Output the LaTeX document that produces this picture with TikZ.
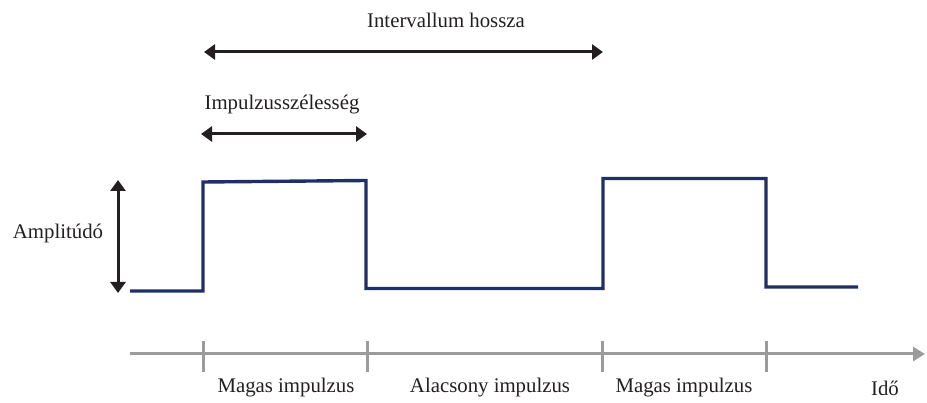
\documentclass[tikz,border=0pt]{standalone}
\usepackage{fontspec}
\setmainfont{Liberation Serif}
\usetikzlibrary{arrows.meta}
\definecolor{sig}{HTML}{1F3066}
\definecolor{dark}{HTML}{231F20}
\definecolor{axisgray}{HTML}{9B9B9B}
\tikzset{
  lbl/.style={font=\fontsize{20.8}{25}\selectfont, text=dark, inner sep=0pt},
  dimarrow/.style={draw=dark, line width=3pt, {Triangle[width=15pt,length=11pt]}-{Triangle[width=15pt,length=11pt]}},
  signal/.style={draw=sig, line width=3.4pt, line join=miter},
  axisline/.style={draw=axisgray, line width=3pt},
  tick/.style={draw=axisgray, line width=3pt}
}
\begin{document}
\begin{tikzpicture}[x=1pt,y=-1pt]
\useasboundingbox (0,0) rectangle (927,403);
% signal coordinates
\coordinate (s0) at (130,291);
\coordinate (s1) at (203,291);
\coordinate (s2) at (203,182);
\coordinate (s3) at (366,180.5);
\coordinate (s4) at (366,288.5);
\coordinate (s5) at (603,288.5);
\coordinate (s6) at (603,178.5);
\coordinate (s7) at (766,178.5);
\coordinate (s8) at (766,287);
\coordinate (s9) at (858,287);
\draw[signal] (s0) -- (s1) -- (s2) -- (s3) -- (s4) -- (s5) -- (s6) -- (s7) -- (s8) -- (s9);
% dimension arrows
\coordinate (ia) at (204,52);
\coordinate (ib) at (603,52);
\draw[dimarrow] (ia) -- (ib);
\node[lbl] (ilbl) at (446,20) {Intervallum hossza};
\coordinate (wa) at (201,134);
\coordinate (wb) at (367,134);
\draw[dimarrow] (wa) -- (wb);
\node[lbl] (wlbl) at (282,105) {Impulzusszélesség};
\coordinate (aa) at (118,180);
\coordinate (ab) at (118,293);
\draw[dimarrow] (aa) -- (ab);
\node[lbl] (albl) at (58,233) {Amplitúdó};
% time axis
\coordinate (x0) at (130,354);
\coordinate (x1) at (925,354);
\draw[axisline, -{Triangle[width=14pt,length=12pt]}] (x0) -- (x1);
\foreach \t/\n in {203/t1,367/t2,602/t3,766/t4}{
  \coordinate (\n a) at (\t,341);
  \coordinate (\n b) at (\t,372);
  \draw[tick] (\n a) -- (\n b);
}
\node[lbl] (m1) at (286,388) {Magas impulzus};
\node[lbl] (lo) at (490,388) {Alacsony impulzus};
\node[lbl] (m2) at (684,388) {Magas impulzus};
\node[lbl] (ido) at (885,388) {Idő};
\end{tikzpicture}
\end{document}
